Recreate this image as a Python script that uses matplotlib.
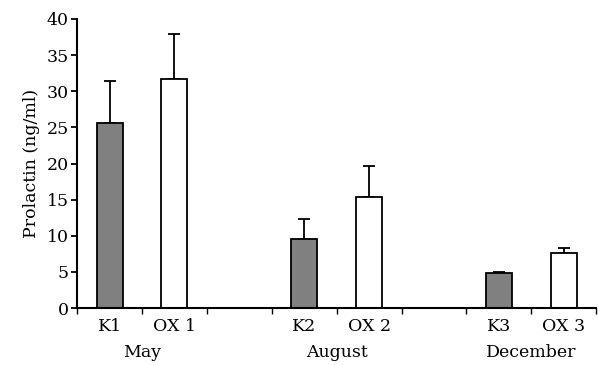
import numpy as np
import matplotlib.pyplot as plt
import matplotlib.transforms as mtransforms

# Data
labels = ["K1", "OX 1", "", "K2", "OX 2", "", "K3", "OX 3"]
means = [25.6, 31.7, np.nan, 9.5, 15.4, np.nan, 4.8, 7.6]
err_up = [5.8, 6.2, np.nan, 2.8, 4.2, np.nan, 0.15, 0.7]
bar_colors = ["#808080", "white", "white", "#808080", "white", "white", "#808080", "white"]
months = ["May", "August", "December"]
month_pos = [0.5, 3.5, 6.5]

plt.rcParams['font.family'] = ['DejaVu Serif']

fig = plt.figure(figsize=(5.98, 3.65), dpi=100)
ax = fig.add_axes([0.129, 0.156, 0.868, 0.792])

x = np.arange(len(labels))
for i in x:
    if np.isnan(means[i]):
        continue
    ax.bar(i, means[i], width=0.4, color=bar_colors[i], edgecolor='black',
           linewidth=1.3, zorder=2)
    ax.errorbar(i, means[i], yerr=[[0], [err_up[i]]], fmt='none',
                ecolor='black', elinewidth=1.3, capsize=4, capthick=1.3, zorder=1)

ax.set_xlim(-0.5, 7.5)
ax.set_ylim(0, 40)
ax.set_yticks(np.arange(0, 41, 5))
ax.set_xticks(np.arange(-0.5, 8, 1))
ax.set_xticklabels([])
ax.set_xticks(x, minor=True)
ax.set_xticklabels(labels, minor=True, fontsize=12.5)
ax.tick_params(axis='x', which='minor', length=0, pad=7)
ax.tick_params(axis='x', which='major', length=4, width=1.0, direction='out')
ax.tick_params(axis='y', length=4, width=1.3, labelsize=12.5, pad=2)

for s in ['top', 'right']:
    ax.spines[s].set_visible(False)
for s in ['left', 'bottom']:
    ax.spines[s].set_linewidth(1.5)

ax.set_ylabel("Prolactin (ng/ml)", fontsize=12.5, labelpad=5)

trans = mtransforms.blended_transform_factory(ax.transData, ax.transAxes)
for m, p in zip(months, month_pos):
    ax.text(p, -0.125, m, transform=trans, ha='center', va='top', fontsize=12.5)

fig.savefig("out.png", dpi=100)
